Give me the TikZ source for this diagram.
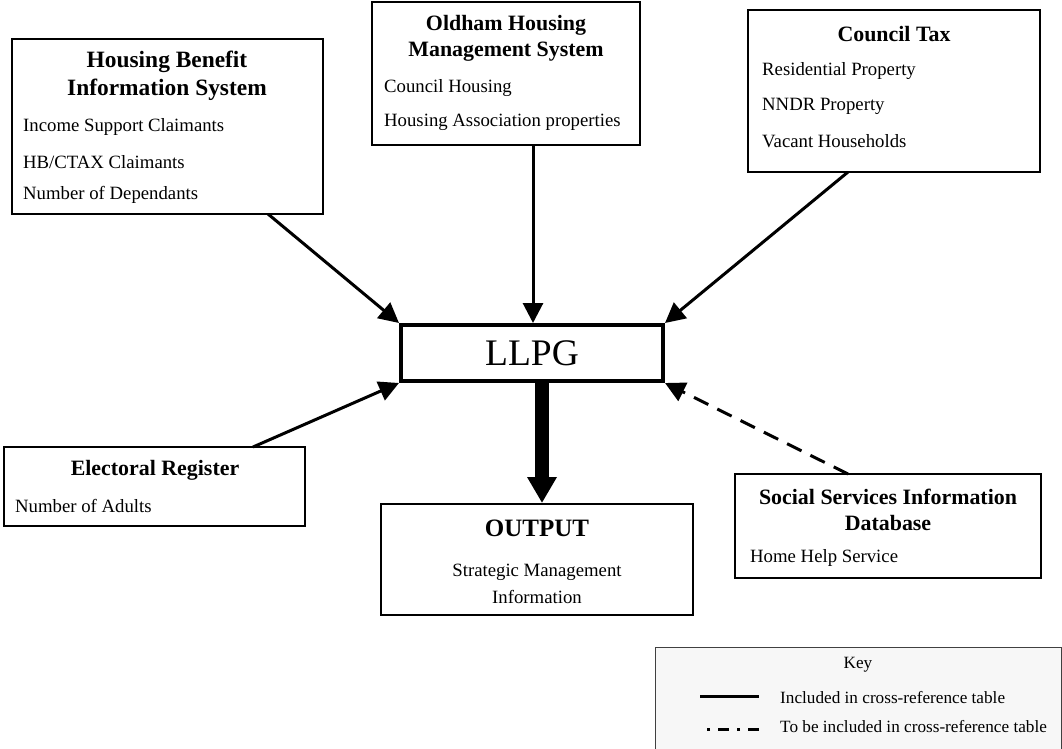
\documentclass[tikz,border=0pt]{standalone}
\usepackage{fontspec}
\setmainfont{Liberation Serif}
\usetikzlibrary{arrows.meta}
\newcommand{\bodyfs}{\fontsize{18.75}{22}\selectfont}
\newcommand{\titlefs}{\fontsize{21.9}{26}\selectfont\bfseries}
\newcommand{\bigtitlefs}{\fontsize{23.4}{28}\selectfont\bfseries}
\newcommand{\keyfs}{\fontsize{17.2}{20}\selectfont}
\tikzset{
  box/.style={draw=black, line width=1.5pt, fill=white},
  txt/.style={inner sep=0pt, anchor=west, font=\bodyfs},
  ttl/.style={inner sep=0pt, align=center, font=\titlefs},
  feed/.style={line width=3pt, -{Triangle[length=20pt,width=20pt]}},
  feeddash/.style={line width=3pt, dash pattern=on 16pt off 10pt, -{Triangle[length=20pt,width=20pt]}},
}
\begin{document}
\begin{tikzpicture}[x=1pt,y=-1pt]
\useasboundingbox (0,0) rectangle (1062,749);
% Housing Benefit
\draw[box] (12,39) rectangle (323,214);
\node[ttl, font=\bigtitlefs] (hbt) at (167,76) {Housing Benefit\\Information System};
\node[txt] (hb1) at (23,127) {Income Support Claimants};
\node[txt] (hb2) at (23,162) {HB/CTAX Claimants};
\node[txt] (hb3) at (23,195) {Number of Dependants};
\coordinate (hbs) at (268,214);

% Oldham
\draw[box] (372,2) rectangle (640,145);
\node[ttl] (oht) at (506,38) {Oldham Housing\\Management System};
\node[txt] (oh1) at (384,88) {Council Housing};
\node[txt] (oh2) at (384,122) {Housing Association properties};
\coordinate (ohs) at (533,145);

% Council Tax
\draw[box] (748,10) rectangle (1040,172);
\node[ttl] (ctt) at (894,34) {Council Tax};
\node[txt] (ct1) at (762,71) {Residential Property};
\node[txt] (ct2) at (762,106) {NNDR Property};
\node[txt] (ct3) at (762,141) {Vacant Households};
\coordinate (cts) at (848,172);

% Electoral
\draw[box] (4,447) rectangle (305,526);
\node[ttl] (ert) at (155,470) {Electoral Register};
\node[txt] (er1) at (15,506) {Number of Adults};
\coordinate (ers) at (253,447);

% Social services
\draw[box] (735,474) rectangle (1041,578);
\node[ttl] (sst) at (888,510) {Social Services Information\\Database};
\node[txt] (ss1) at (750,558) {Home Help Service};
\coordinate (sss) at (848,474);

% LLPG
\node[draw=black, line width=4pt, fill=white, minimum width=262pt, minimum height=56pt, inner sep=0pt, font=\fontsize{37.5}{40}\selectfont] (llpg) at (532,353) {LLPG};

% Output
\draw[box] (381,504) rectangle (693,615);
\node[inner sep=0pt, font=\fontsize{25}{28}\selectfont\bfseries] (out) at (537,528) {OUTPUT};
\node[inner sep=0pt, align=center, font=\fontsize{18.75}{27}\selectfont] (outt) at (537,584) {Strategic Management\\Information};
\coordinate (outn) at (542,503);

% arrows
\draw[feed] (hbs) -- (llpg.north west);
\draw[feed] (ohs) -- (llpg.north -| ohs);
\draw[feed] (cts) -- (llpg.north east);
\draw[feed] (ers) -- (llpg.south west);
\draw[feeddash] (sss) -- (llpg.south east);
\draw[line width=14pt, -{Triangle[length=26pt,width=28pt]}] (llpg.south -| outn) -- (outn);

% key
\draw[draw=black!75, line width=1pt, fill=black!3] (655,647) rectangle (1061,760);
\node[inner sep=0pt, font=\keyfs] (keyt) at (858,665) {Key};
\coordinate (k1a) at (700,696);
\coordinate (k1b) at (759,696);
\coordinate (k2a) at (700,729);
\coordinate (k2b) at (759,729);
\draw[line width=3pt] (k1a) -- (k1b);
\draw[line width=3pt, dash pattern=on 11pt off 8pt on 3pt off 8pt] (k2b) -- (k2a);
\node[txt, font=\keyfs] (kl1) at (780,698) {Included in cross-reference table};
\node[txt, font=\keyfs] (kl2) at (780,727) {To be included in cross-reference table};
\end{tikzpicture}
\end{document}
